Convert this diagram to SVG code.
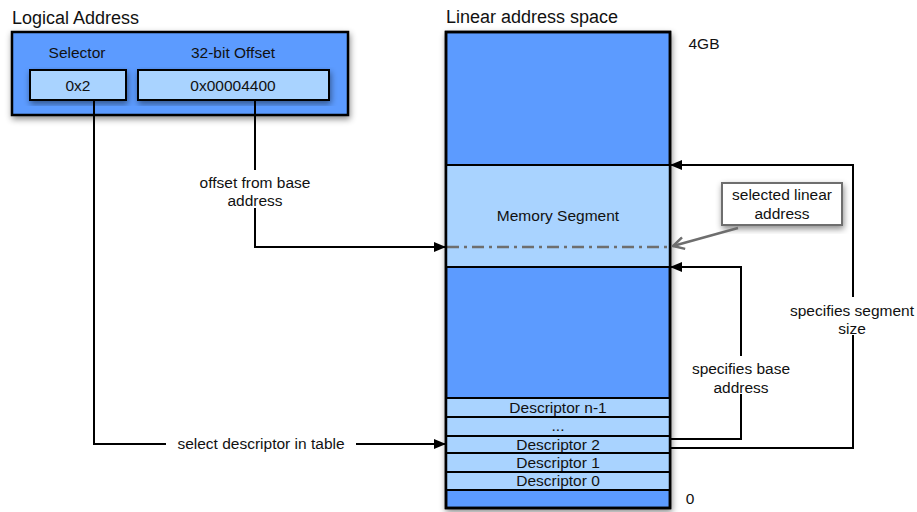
<svg xmlns="http://www.w3.org/2000/svg" width="917" height="512" viewBox="0 0 917 512">
  <defs>
    <filter id="shadow" x="-10%" y="-10%" width="130%" height="130%">
      <feDropShadow dx="1" dy="3" stdDeviation="3" flood-color="#000" flood-opacity="0.45"/>
    </filter>
    <marker id="arrow" markerWidth="12" markerHeight="10" refX="11" refY="5" orient="auto" markerUnits="userSpaceOnUse">
      <path d="M0,0 L12,5 L0,10 Z" fill="#000"/>
    </marker>
    <marker id="arrowGray" markerWidth="14" markerHeight="14" refX="12" refY="7" orient="auto" markerUnits="userSpaceOnUse">
      <path d="M1,1 L12,7 L1,13" fill="none" stroke="#6e6e6e" stroke-width="2.5"/>
    </marker>
  </defs>
  <style>
    text { font-family: "Liberation Sans", Arial, sans-serif; fill: #111; }
    .title { font-size: 18px; }
    .lbl { font-size: 15.5px; text-anchor: middle; }
    .dark { fill: #5b9bff; stroke: #000; stroke-width: 2.5; }
    .light { fill: #a9d3ff; stroke: #000; stroke-width: 2; }
    .conn { fill: none; stroke: #000; stroke-width: 2; }
    .bg { fill: #fff; }
  </style>

  <rect width="917" height="512" fill="#fff"/>

  <!-- Logical address -->
  <g id="logical-address">
    <text class="title" x="12" y="24">Logical Address</text>
    <rect class="dark" x="12" y="32" width="336" height="83" filter="url(#shadow)"/>
    <text class="lbl" x="77" y="58">Selector</text>
    <text class="lbl" x="233" y="58">32-bit Offset</text>
  </g>
  <g id="selector">
    <rect class="light" x="30" y="70" width="96" height="30" stroke-width="1.5" filter="url(#shadow)"/>
    <text class="lbl" x="78" y="91">0x2</text>
  </g>
  <g id="offset">
    <rect class="light" x="138" y="70" width="191" height="30" stroke-width="1.5" filter="url(#shadow)"/>
    <text class="lbl" x="233" y="91">0x00004400</text>
  </g>

  <!-- Linear address space -->
  <g id="linear-space">
    <text class="title" x="446" y="23">Linear address space</text>
    <rect class="dark" x="446" y="32" width="224" height="476" filter="url(#shadow)"/>
    <text class="lbl" x="704" y="49">4GB</text>
    <text class="lbl" x="690" y="504">0</text>
  </g>
  <g id="memory-segment">
    <rect class="light" x="446" y="165" width="224" height="102" stroke-width="2.5"/>
    <text class="lbl" x="558" y="221">Memory Segment</text>
    <line x1="447" y1="247" x2="669" y2="247" stroke="#6e6e6e" stroke-width="2.5" stroke-dasharray="12,5,3,5"/>
  </g>
  <g id="descriptor-table">
    <rect class="light" x="446" y="398" width="224" height="19"/>
    <text class="lbl" x="558" y="413">Descriptor n-1</text>
    <rect class="light" x="446" y="417" width="224" height="19"/>
    <text class="lbl" x="558" y="431">...</text>
    <rect class="light" x="446" y="436" width="224" height="17"/>
    <text class="lbl" x="558" y="450">Descriptor 2</text>
    <rect class="light" x="446" y="453" width="224" height="19"/>
    <text class="lbl" x="558" y="468">Descriptor 1</text>
    <rect class="light" x="446" y="472" width="224" height="18"/>
    <text class="lbl" x="558" y="486">Descriptor 0</text>
    <rect x="446" y="32" width="224" height="476" fill="none" stroke="#000" stroke-width="2.5"/>
  </g>

  <!-- Callout -->
  <g id="callout">
    <rect x="722" y="183" width="120" height="42" fill="#fff" stroke="#6e6e6e" stroke-width="2" filter="url(#shadow)"/>
    <text class="lbl" x="782" y="200">selected linear</text>
    <text class="lbl" x="782" y="219">address</text>
  </g>

  <!-- Connectors -->
  <g id="connectors">
    <path class="conn" d="M255,100 V247 H445" marker-end="url(#arrow)"/>
    <path class="conn" d="M94,100 V444 H445" marker-end="url(#arrow)"/>
    <path class="conn" d="M670,439 H741 V267 H671" marker-end="url(#arrow)"/>
    <path class="conn" d="M670,448 H853 V165 H671" marker-end="url(#arrow)"/>
    <line x1="738" y1="228" x2="673" y2="246" stroke="#6e6e6e" stroke-width="2.5" marker-end="url(#arrowGray)"/>

    <!-- label backgrounds break the lines -->
    <rect class="bg" x="186" y="170" width="138" height="38"/>
    <text class="lbl" x="255" y="188">offset from base</text>
    <text class="lbl" x="255" y="206">address</text>

    <rect class="bg" x="166" y="434" width="190" height="20"/>
    <text class="lbl" x="261" y="449">select descriptor in table</text>

    <rect class="bg" x="682" y="356" width="118" height="38"/>
    <text class="lbl" x="741" y="374">specifies base</text>
    <text class="lbl" x="741" y="393">address</text>

    <rect class="bg" x="786" y="297" width="131" height="38"/>
    <text class="lbl" x="852" y="316">specifies segment</text>
    <text class="lbl" x="852" y="334">size</text>
  </g>
</svg>
